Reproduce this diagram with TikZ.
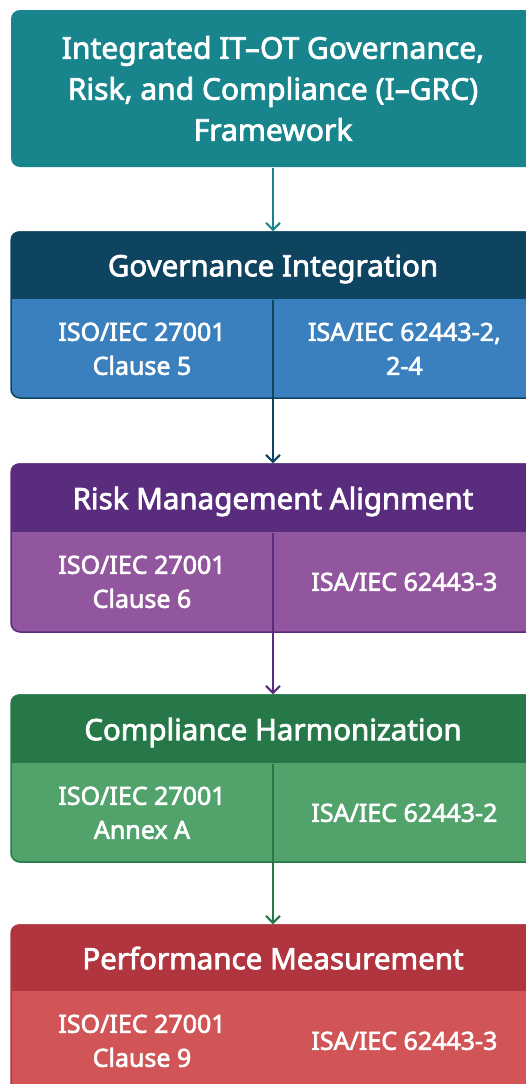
\documentclass[tikz,border=0pt]{standalone}
\usepackage{fontspec}
\setmainfont{Noto Sans}[FakeBold=2.5]
\usetikzlibrary{positioning}
\usetikzlibrary{arrows.meta}
\definecolor{topteal}{HTML}{18858D}
\definecolor{govdark}{HTML}{0E4460}
\definecolor{govlight}{HTML}{3A80BF}
\definecolor{riskdark}{HTML}{5A2C7E}
\definecolor{risklight}{HTML}{92569E}
\definecolor{compdark}{HTML}{267848}
\definecolor{complight}{HTML}{52A26C}
\definecolor{perfdark}{HTML}{B0353F}
\definecolor{perflight}{HTML}{D15456}
\tikzset{blockbox/.style = {rectangle, rounded corners=9pt, minimum width=524pt,
                            line width=1.5pt, inner sep=0pt},
         headbox/.style = {rectangle, minimum width=524pt, minimum height=68pt, text depth=0pt,
                           inner sep=0pt, text=white, font=\fontsize{29.5}{30}\selectfont},
         cell/.style = {rectangle, minimum width=262pt, minimum height=98pt, inner sep=0pt,
                        align=center, text=white, font=\fontsize{25}{34}\selectfont},
         flow/.style = {line width=2pt, -{Straight Barb[length=7pt, width=14pt]}}}

\begin{document}
\begin{tikzpicture}[x=1pt, y=-1pt]
    \useasboundingbox (0, 0) rectangle (526, 1084);
    \fill [white] (0, 0) rectangle (526, 1084);
    \clip (0, 0) rectangle (526, 1084);

    % framework title
    \node [blockbox, fill=topteal, minimum height=157pt, align=center, text=white,
           font=\fontsize{30}{41}\selectfont] (igrc) at (273, 88.5)
          {Integrated IT--OT Governance,\\Risk, and Compliance (I--GRC)\\Framework};

    % governance
    \node [blockbox, fill=govlight, draw=govdark, minimum height=166pt] (gov) at (273, 315) {};
    \begin{scope}
      \clip [rounded corners=9pt] (gov.north west) rectangle (gov.south east);
      \node [headbox, fill=govdark, below=0pt of gov.north] (govhead) {Governance Integration};
    \end{scope}
    \node [cell, below right=0pt of govhead.south west] (govleft) {ISO/IEC 27001\\Clause 5};
    \node [cell, right=0pt of govleft] (govright) {ISA/IEC 62443-2,\\2-4};

    % risk
    \node [blockbox, fill=risklight, draw=riskdark, minimum height=168pt] (risk) at (273, 548) {};
    \begin{scope}
      \clip [rounded corners=9pt] (risk.north west) rectangle (risk.south east);
      \node [headbox, fill=riskdark, minimum height=69pt, below=0pt of risk.north] (riskhead)
            {Risk Management Alignment};
    \end{scope}
    \node [cell, below right=0pt of riskhead.south west] (riskleft) {ISO/IEC 27001\\Clause 6};
    \node [cell, right=0pt of riskleft] (riskright) {ISA/IEC 62443-3};

    % compliance
    \node [blockbox, fill=complight, draw=compdark, minimum height=167pt] (comp) at (273, 778.5) {};
    \begin{scope}
      \clip [rounded corners=9pt] (comp.north west) rectangle (comp.south east);
      \node [headbox, fill=compdark, minimum height=69pt, below=0pt of comp.north] (comphead)
            {Compliance Harmonization};
    \end{scope}
    \node [cell, below right=0pt of comphead.south west] (compleft) {ISO/IEC 27001\\Annex A};
    \node [cell, right=0pt of compleft] (compright) {ISA/IEC 62443-2};

    % performance
    \node [blockbox, fill=perflight, draw=perfdark, minimum height=167pt] (perf) at (273, 1008.5) {};
    \begin{scope}
      \clip [rounded corners=9pt] (perf.north west) rectangle (perf.south east);
      \node [headbox, fill=perfdark, minimum height=67pt, below=0pt of perf.north] (perfhead)
            {Performance Measurement};
    \end{scope}
    \node [cell, below right=0pt of perfhead.south west] (perfleft) {ISO/IEC 27001\\Clause 9};
    \node [cell, right=0pt of perfleft] (perfright) {ISA/IEC 62443-3};

    % flow
    \draw [flow, topteal] (igrc.south) -- (gov.north);
    \draw [flow, govdark] (govhead.south) -- (risk.north);
    \draw [flow, riskdark] (riskhead.south) -- (comp.north);
    \draw [flow, compdark] (comphead.south) -- (perf.north);
\end{tikzpicture}
\end{document}
